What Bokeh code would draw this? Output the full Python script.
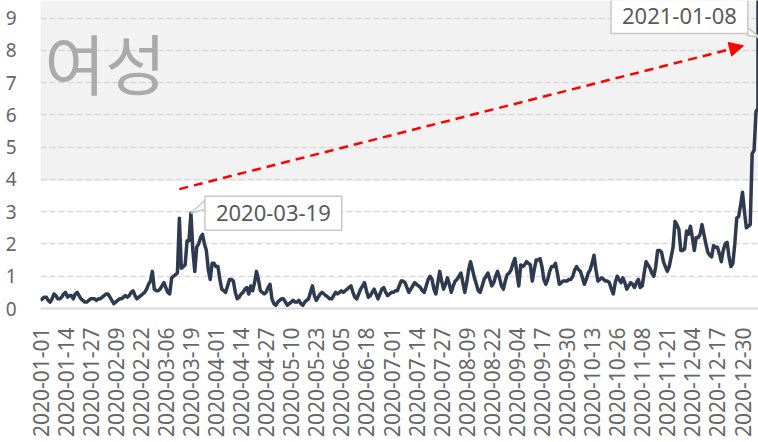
import math
import pandas as pd
from bokeh.plotting import figure
from bokeh.models import (Range1d, FixedTicker, BoxAnnotation, Label, Arrow, NormalHead,
                          ColumnDataSource)
from bokeh.embed import file_html
from bokeh.resources import INLINE

# ---------------- data ----------------
start_date = "2020-01-01"
values = [
    0.25, 0.3, 0.35, 0.35, 0.25, 0.2, 0.3, 0.45, 0.4, 0.3,
    0.3, 0.35, 0.45, 0.5, 0.35, 0.4, 0.4, 0.3, 0.45, 0.5,
    0.4, 0.3, 0.25, 0.2, 0.2, 0.25, 0.3, 0.3, 0.3, 0.25,
    0.3, 0.3, 0.35, 0.4, 0.45, 0.45, 0.35, 0.25, 0.15, 0.2,
    0.25, 0.3, 0.3, 0.35, 0.4, 0.35, 0.4, 0.5, 0.55, 0.4,
    0.3, 0.35, 0.4, 0.45, 0.5, 0.6, 0.75, 0.85, 1.15, 0.6,
    0.55, 0.55, 0.6, 0.7, 0.8, 0.65, 0.5, 0.45, 0.95, 1.0,
    1.05, 1.1, 2.8, 1.25, 1.3, 1.35, 2.1, 2.1, 2.95, 1.8,
    1.15, 1.9, 2.0, 2.2, 2.3, 2.0, 1.8, 1.2, 0.9, 1.4,
    1.4, 1.3, 1.3, 0.9, 0.6, 0.55, 0.5, 0.7, 0.9, 0.9,
    0.85, 0.5, 0.3, 0.35, 0.45, 0.5, 0.6, 0.65, 0.45, 0.7,
    0.55, 0.8, 1.15, 0.9, 0.55, 0.5, 0.45, 0.5, 0.65, 0.75,
    0.3, 0.15, 0.1, 0.2, 0.25, 0.3, 0.3, 0.2, 0.1, 0.15,
    0.2, 0.25, 0.2, 0.2, 0.25, 0.15, 0.1, 0.2, 0.25, 0.3,
    0.5, 0.7, 0.4, 0.25, 0.35, 0.45, 0.5, 0.45, 0.4, 0.35,
    0.3, 0.3, 0.4, 0.5, 0.45, 0.5, 0.55, 0.5, 0.55, 0.6,
    0.65, 0.7, 0.5, 0.35, 0.3, 0.45, 0.6, 0.7, 0.8, 0.55,
    0.35, 0.4, 0.5, 0.6, 0.45, 0.3, 0.45, 0.6, 0.65, 0.5,
    0.4, 0.45, 0.5, 0.5, 0.55, 0.55, 0.7, 0.85, 0.85, 0.8,
    0.65, 0.5, 0.6, 0.7, 0.8, 0.75, 0.7, 0.65, 0.55, 0.5,
    0.7, 0.9, 1.0, 0.9, 0.6, 0.45, 0.8, 1.15, 0.85, 0.6,
    0.75, 0.95, 0.75, 0.5, 0.7, 0.85, 0.9, 1.0, 1.1, 0.8,
    0.5, 0.8, 1.2, 1.45, 1.2, 0.95, 0.75, 0.55, 0.5, 0.7,
    0.9, 1.0, 1.1, 0.9, 0.7, 0.8, 1.0, 1.15, 0.95, 0.7,
    0.6, 0.85, 1.05, 1.1, 1.2, 1.4, 1.55, 1.1, 0.7, 1.35,
    1.3, 1.35, 1.45, 1.4, 1.35, 0.85, 1.2, 1.5, 1.5, 1.55,
    1.3, 0.9, 0.75, 0.9, 1.15, 1.3, 1.3, 1.4, 1.1, 0.75,
    0.8, 0.85, 0.85, 0.85, 0.9, 0.9, 1.0, 1.2, 1.3, 1.2,
    1.15, 0.95, 0.75, 0.9, 1.1, 1.2, 1.4, 1.65, 1.2, 0.85,
    0.9, 0.95, 0.9, 0.85, 0.85, 0.8, 0.6, 0.45, 0.8, 1.0,
    0.9, 0.8, 0.95, 0.8, 0.6, 0.7, 0.8, 0.75, 0.65, 0.8,
    0.9, 0.65, 0.7, 1.1, 1.45, 1.35, 1.25, 1.1, 1.0, 1.3,
    1.8, 1.8, 1.75, 1.45, 1.3, 1.15, 1.3, 1.6, 1.9, 2.7,
    2.6, 2.45, 1.8, 1.8, 1.85, 2.4, 2.3, 2.55, 2.2, 1.8,
    2.2, 2.2, 2.3, 2.6, 2.3, 2.0, 1.75, 1.65, 1.6, 1.95,
    1.9, 1.9, 1.7, 1.45, 1.8, 2.0, 2.05, 1.6, 1.3, 1.4,
    2.0, 2.8, 2.85, 3.2, 3.6, 3.0, 2.5, 2.55, 2.6, 4.8,
    4.9, 6.1, 6.2, 100,
]
dates = [d.strftime("%Y-%m-%d") for d in pd.date_range(start_date, periods=len(values), freq="D")]
tick_step_days = 13
y_ticks = [0, 1, 2, 3, 4, 5, 6, 7, 8, 9]
band_from = 3.95
title_text = "여성"
callout_dates = ["2020-03-19", "2021-01-08"]
arrow_from = ("2020-03-13", 3.7)
arrow_to = ("2020-12-30", 8.14)
peak_label_y = 8.40

idx = list(range(len(values)))
date_index = {d: i for i, d in enumerate(dates)}

# ---------------- layout ----------------
W, H = 758, 442
ML, MB = 40, 134
frame_w = W - ML
frame_h = H - MB
px_per_day = 1.9286
px_per_unit = 32.27
x_end = frame_w / px_per_day
y_end = frame_h / px_per_unit

p = figure(width=W, height=H, output_backend="svg", toolbar_location=None,
           x_range=Range1d(0, x_end), y_range=Range1d(0, y_end),
           min_border_left=ML, min_border_right=0, min_border_top=0, min_border_bottom=MB,
           background_fill_color="white", border_fill_color="white")
p.outline_line_color = None

band = BoxAnnotation(bottom=band_from, fill_color="#f2f2f2", fill_alpha=1.0,
                     line_color=None, level="image")
p.add_layout(band)

# axes
xt = list(range(0, len(values), tick_step_days))
p.xaxis.ticker = FixedTicker(ticks=xt)
p.xaxis.major_label_overrides = {i: dates[i] for i in xt}
p.xaxis.major_label_orientation = math.pi / 2
p.xaxis.major_label_text_font = "Noto Sans"
p.xaxis.major_label_text_font_size = "21px"
p.xaxis.major_label_text_color = "#666666"
p.xaxis.major_label_standoff = 13
p.xaxis.major_tick_line_color = None
p.xaxis.minor_tick_line_color = None
p.xaxis.axis_line_color = "#d9d9d9"
p.xaxis.axis_line_width = 2

p.yaxis.ticker = FixedTicker(ticks=y_ticks)
p.yaxis.major_label_text_font = "Noto Sans"
p.yaxis.major_label_text_font_size = "19px"
p.yaxis.major_label_text_color = "#666666"
p.yaxis.major_label_standoff = 18
p.yaxis.major_tick_line_color = None
p.yaxis.minor_tick_line_color = None
p.yaxis.axis_line_color = None

p.xgrid.visible = False
p.ygrid.ticker = FixedTicker(ticks=y_ticks)
p.ygrid.grid_line_color = "#d9d9d9"
p.ygrid.grid_line_dash = "6 3"
p.ygrid.grid_line_width = 1.5

# series
src = ColumnDataSource(dict(x=idx, y=values, date=dates))
p.line("x", "y", source=src, line_color="#2e3a4f", line_width=3.5, line_join="round")

# title text
p.add_layout(Label(x=0, y=y_end, x_offset=4, y_offset=-12, text=title_text,
                   text_font="Noto Sans CJK KR", text_font_size="66px",
                   text_color="#aaaaaa", text_baseline="top", text_align="left"))

# arrow
p.add_layout(Arrow(x_start=date_index[arrow_from[0]], y_start=arrow_from[1],
                   x_end=date_index[arrow_to[0]] + 0.5, y_end=arrow_to[1],
                   line_color="#ff0000", line_width=2.5, line_dash="9 6",
                   end=NormalHead(size=14, fill_color="#ff0000", line_color="#ff0000")))

# callouts
def tail(x0, y0, pts):
    xs = [x0] + [x0 + dx / px_per_day for dx, dy in pts]
    ys = [y0] + [y0 + dy / px_per_unit for dx, dy in pts]
    p.patch(xs, ys, fill_color="white", line_color="#c8c8c8", line_width=1.5)

c1 = date_index[callout_dates[0]]
c1y = values[c1]
tail(c1, c1y, [(14, 13), (14, 4)])
p.add_layout(Label(x=c1, y=c1y, x_offset=14, y_offset=0, text=callout_dates[0],
                   text_font="Noto Sans", text_font_size="22px", text_color="#595959",
                   text_align="left", text_baseline="middle",
                   background_fill_color="white", border_line_color="#c8c8c8",
                   border_line_width=1.5,
                   padding=dict(left=11, right=11, top=9, bottom=9)))

c2 = date_index[callout_dates[1]]
tail(c2, peak_label_y, [(-12.5, 10), (-12.5, 2)])
p.add_layout(Label(x=c2, y=peak_label_y, x_offset=-12, y_offset=21, text=callout_dates[1],
                   text_font="Noto Sans", text_font_size="22px", text_color="#595959",
                   text_align="right", text_baseline="middle",
                   background_fill_color="white", border_line_color="#c8c8c8",
                   border_line_width=1.5,
                   padding=dict(left=11, right=11, top=9, bottom=9)))

open("out.html", "w").write(file_html(p, INLINE))
